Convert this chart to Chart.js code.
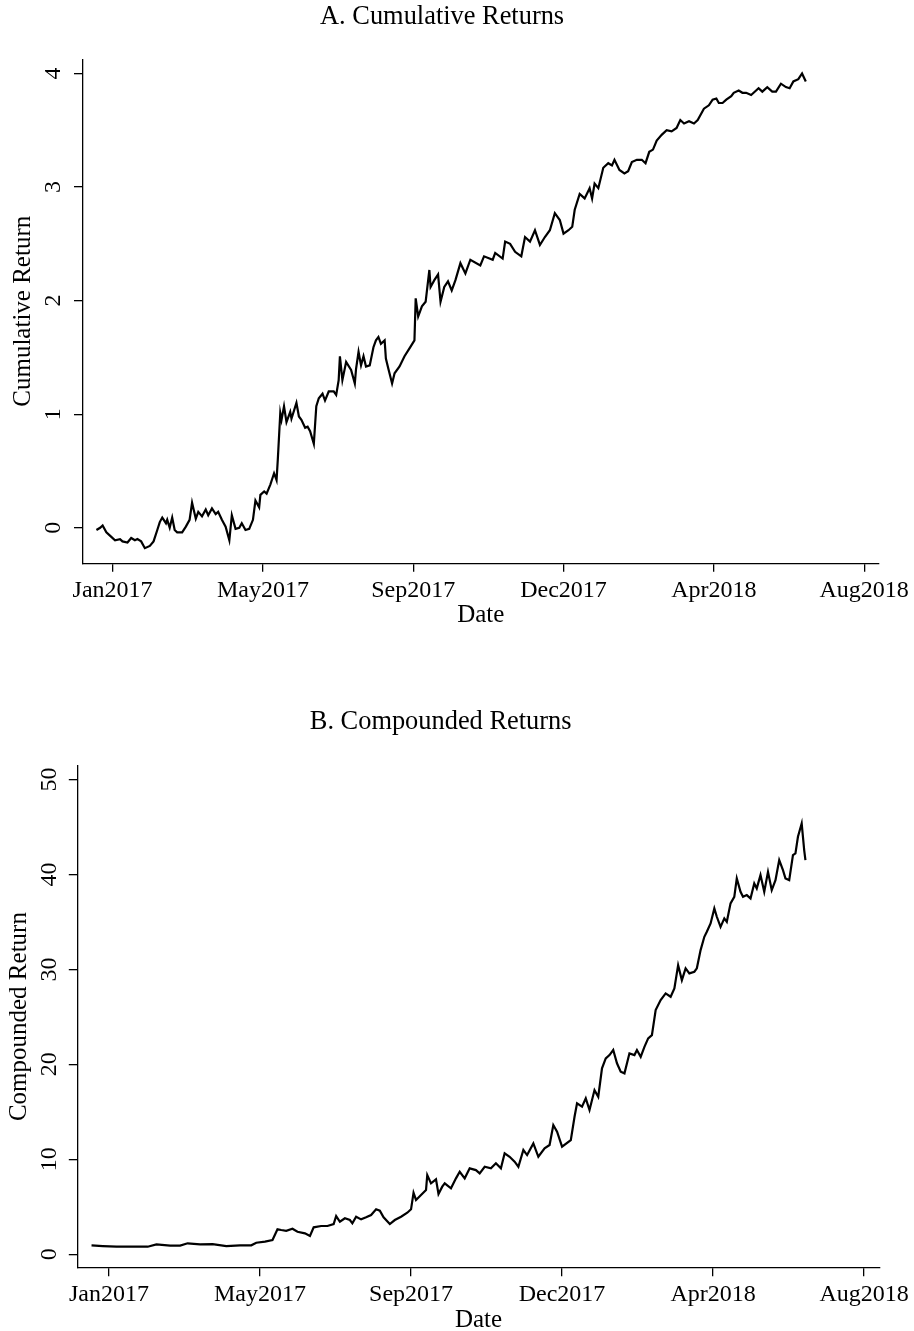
<!DOCTYPE html>
<html>
<head>
<meta charset="utf-8">
<script src="https://cdn.jsdelivr.net/npm/chart.js@4.4.1/dist/chart.umd.min.js"></script>
<style>
  html, body { margin: 0; padding: 0; background: #fff; overflow: hidden; }
  canvas { position: absolute; left: 0; }
  #chartA { top: 0; }
  #chartB { top: 660px; }
</style>
</head>
<body>
<canvas id="chartA" width="914" height="645"></canvas>
<canvas id="chartB" width="914" height="690"></canvas>
<script>
// x values are days counted from the Jan2017 tick
const tickDays = [0, 121, 242, 363, 484, 605];
const tickLabels = ['Jan2017', 'May2017', 'Sep2017', 'Dec2017', 'Apr2018', 'Aug2018'];

// panel A: cumulative returns
const daysA = [-13,-10,-8,-5,-1,2,6,8,12,15,18,20,23,26,30,33,36,38,40,43,
  44,46,48,50,52,56,59,62,64,67,69,72,75,77,80,83,85,88,91,94,
  96,99,102,104,107,110,113,115,118,119,122,124,127,130,132,133,135,136,138,140,
  143,144,148,150,152,155,157,159,162,164,166,169,171,174,178,180,182,183,185,188,
  192,195,196,198,200,202,204,207,210,212,214,216,219,220,222,225,227,231,235,239,
  243,244,246,249,252,255,256,259,262,264,267,270,273,276,280,284,288,296,299,306,
  308,314,316,320,324,329,332,336,340,344,348,352,356,360,363,367,370,372,376,380,
  384,386,388,391,395,399,402,404,408,412,415,418,422,426,429,432,435,438,442,446,
  450,454,457,460,464,468,471,474,476,480,483,486,488,491,494,498,500,504,507,510,
  514,518,520,523,527,531,534,538,542,545,548,552,555,558];
const cumReturn = [-0.02,0.00,0.02,-0.04,-0.08,-0.11,-0.10,-0.12,-0.13,-0.09,-0.11,-0.10,-0.12,-0.18,-0.16,-0.12,-0.02,0.05,0.09,0.04,
  0.07,0.00,0.09,-0.02,-0.04,-0.04,0.01,0.07,0.22,0.08,0.14,0.10,0.16,0.11,0.17,0.12,0.14,0.07,0.01,-0.11,
  0.11,-0.01,0.00,0.04,-0.02,-0.01,0.07,0.24,0.18,0.29,0.32,0.30,0.38,0.48,0.42,0.60,1.01,0.95,1.07,0.93,
  1.02,0.96,1.10,0.98,0.95,0.88,0.89,0.85,0.74,1.07,1.14,1.18,1.12,1.20,1.20,1.17,1.30,1.51,1.30,1.46,
  1.39,1.27,1.40,1.55,1.43,1.51,1.42,1.43,1.59,1.65,1.68,1.62,1.65,1.49,1.40,1.27,1.36,1.42,1.51,1.58,
  1.65,2.02,1.86,1.95,1.99,2.27,2.12,2.18,2.23,1.99,2.12,2.17,2.09,2.18,2.33,2.24,2.36,2.31,2.39,2.36,
  2.42,2.37,2.52,2.50,2.43,2.39,2.56,2.52,2.62,2.49,2.56,2.62,2.77,2.71,2.59,2.62,2.65,2.80,2.94,2.90,
  2.99,2.90,3.03,2.99,3.17,3.21,3.19,3.24,3.15,3.12,3.14,3.22,3.24,3.24,3.21,3.31,3.33,3.41,3.46,3.50,
  3.49,3.52,3.59,3.56,3.58,3.56,3.59,3.65,3.69,3.72,3.77,3.78,3.74,3.74,3.77,3.80,3.83,3.85,3.83,3.83,
  3.81,3.85,3.87,3.84,3.88,3.84,3.84,3.91,3.88,3.87,3.93,3.95,4.00,3.93];
const yTicksA = [0, 1, 2, 3, 4];

// panel B: compounded returns
const daysB = [-14,-5,6,19,31,38,49,57,63,73,83,94,105,114,118,125,131,135,138,142,
  147,151,157,161,164,170,175,180,182,185,189,193,195,198,202,206,210,214,217,220,
  225,229,234,239,242,244,246,250,254,255,258,262,264,267,269,274,278,281,285,289,
  294,297,301,306,310,314,317,321,325,328,332,335,340,344,349,353,356,359,363,370,
  373,375,379,382,385,389,392,395,398,401,404,407,410,413,417,421,423,426,429,432,
  435,438,442,446,450,453,456,459,462,465,469,471,474,477,479,482,485,487,490,493,
  495,498,501,503,506,508,511,514,517,519,522,525,528,531,534,537,540,542,545,548,
  550,552,555,557,558];
const compReturn = [0.95,0.87,0.80,0.80,0.80,1.05,0.91,0.91,1.16,1.05,1.08,0.87,0.95,0.95,1.22,1.33,1.51,2.63,2.56,2.48,
  2.69,2.38,2.21,1.93,2.84,2.98,2.98,3.19,4.03,3.43,3.79,3.61,3.26,3.96,3.68,3.89,4.14,4.74,4.59,3.89,
  3.19,3.61,3.96,4.38,4.74,6.48,5.72,6.24,6.77,8.35,7.47,7.89,6.35,7.12,7.47,6.95,8.0,8.69,8.0,9.05,
  8.87,8.53,9.22,9.05,9.58,9.05,10.63,10.27,9.75,9.22,10.98,10.45,11.68,10.27,11.16,11.51,13.61,12.91,11.33,12.03,
  14.48,15.89,15.54,16.42,15.19,17.29,16.59,19.58,20.63,20.98,21.51,20.11,19.22,19.05,21.16,20.98,21.51,20.8,21.85,22.74,
  23.08,25.72,26.77,27.47,27.12,28.0,30.45,28.87,30.11,29.58,29.75,30.11,32.03,33.43,33.96,34.84,36.42,35.54,34.48,35.37,
  35.01,36.95,37.64,39.58,38.17,37.64,37.82,37.47,39.05,38.53,39.93,38.17,40.27,38.35,39.4,41.51,40.45,39.58,39.4,42.03,
  42.21,43.96,45.37,42.56,41.51];
const yTicksB = [0, 10, 20, 30, 40, 50];

Chart.defaults.font.family = "'Liberation Serif', 'Times New Roman', serif";
Chart.defaults.color = '#000';

function makeChart(id, cfg) {
    const axisLine = { display: true, color: '#000', width: 1.3 };
    const tickMarks = { display: true, drawOnChartArea: false, drawTicks: true,
                        tickLength: 8.5, color: '#000', lineWidth: 1.3 };
    return new Chart(document.getElementById(id), {
        type: 'line',
        data: {
            datasets: [{
                data: cfg.days.map((d, i) => ({ x: d, y: cfg.values[i] })),
                borderColor: '#000',
                borderWidth: 2.2,
                pointRadius: 0,
                tension: 0,
                fill: false
            }]
        },
        options: {
            responsive: false,
            animation: false,
            devicePixelRatio: 1,
            events: [],
            layout: { padding: { left: 0, right: cfg.padRight, top: 0, bottom: 0 }, autoPadding: false },
            plugins: {
                legend: { display: false },
                tooltip: { enabled: false },
                title: {
                    display: true,
                    text: cfg.title,
                    color: '#000',
                    font: { size: 26.4, weight: 'normal' },
                    padding: { top: cfg.titleTop, bottom: cfg.titleBottom }
                }
            },
            scales: {
                x: {
                    type: 'linear',
                    min: cfg.xMin,
                    max: cfg.xMax,
                    afterBuildTicks: s => { s.ticks = tickDays.map(v => ({ value: v })); },
                    afterFit: s => { s.height = cfg.xAxisH; },
                    ticks: {
                        autoSkip: false, minRotation: 0, maxRotation: 0, padding: 4.6,
                        font: { size: 24 }, color: '#000',
                        callback: (v, i) => tickLabels[i]
                    },
                    grid: tickMarks,
                    border: axisLine,
                    title: { display: true, text: 'Date', color: '#000', font: { size: 25 },
                             padding: { top: 0, bottom: 15 } }
                },
                y: {
                    type: 'linear',
                    min: cfg.yMin,
                    max: cfg.yMax,
                    afterBuildTicks: s => { s.ticks = cfg.yTicks.map(v => ({ value: v })); },
                    afterFit: s => { s.width = cfg.yAxisW; },
                    ticks: {
                        minRotation: 90, maxRotation: 90, crossAlign: 'center',
                        padding: cfg.yTickPad, font: { size: 24 }, color: '#000'
                    },
                    grid: tickMarks,
                    border: axisLine,
                    title: { display: true, text: cfg.yTitle, color: '#000', font: { size: 25 },
                             padding: { top: cfg.yTitlePad, bottom: 0 } }
                }
            }
        }
    });
}

makeChart('chartA', {
    title: 'A. Cumulative Returns', yTitle: 'Cumulative Return',
    days: daysA, values: cumReturn, yTicks: yTicksA,
    xMin: -24.2, xMax: 617, yMin: -0.313, yMax: 4.126,
    yAxisW: 82.5, padRight: 29.8, xAxisH: 81.7,
    titleTop: 1.2, titleBottom: 26.3, yTickPad: 14.2, yTitlePad: 8.5
});

makeChart('chartB', {
    title: 'B. Compounded Returns', yTitle: 'Compounded Return',
    days: daysB, values: compReturn, yTicks: yTicksB,
    xMin: -25.4, xMax: 617.6, yMin: -1.41, yMax: 51.47,
    yAxisW: 77.3, padRight: 32.7, xAxisH: 82.3,
    titleTop: 46.2, titleBottom: 27.6, yTickPad: 7.4, yTitlePad: 4
});
</script>
</body>
</html>
